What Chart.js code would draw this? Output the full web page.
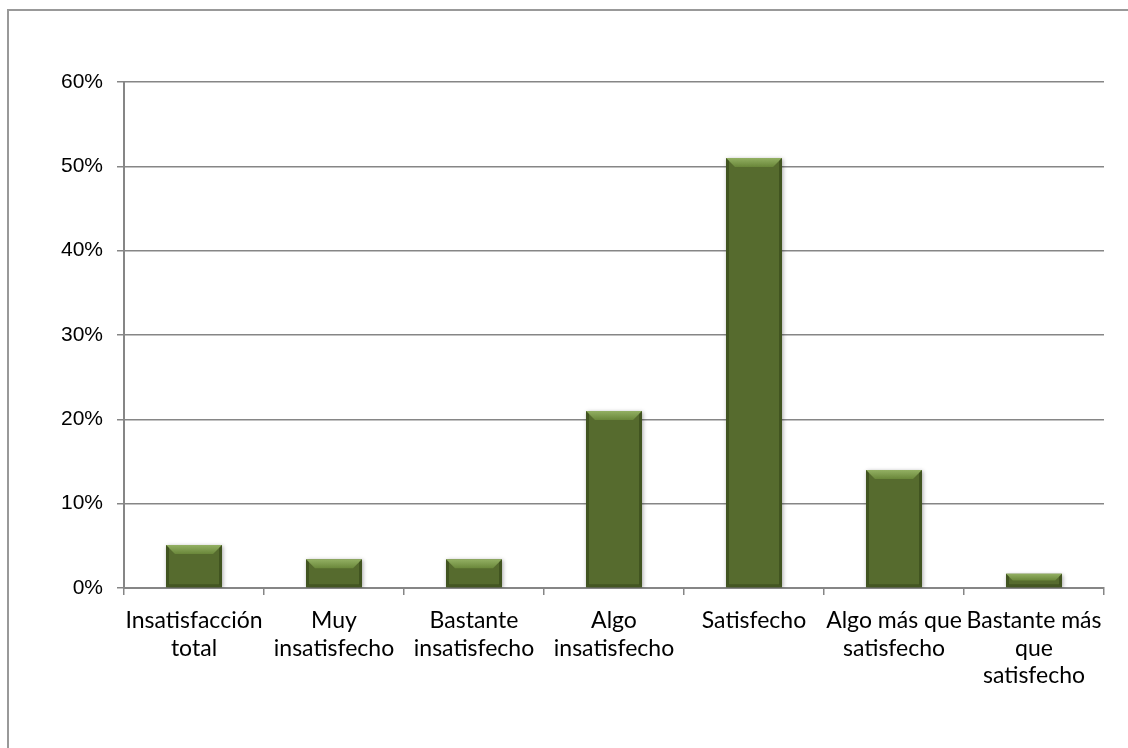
<!DOCTYPE html>
<html>
<head>
<meta charset="utf-8">
<script src="https://cdn.jsdelivr.net/npm/chart.js@4/dist/chart.umd.min.js"></script>
<style>
  html, body { margin: 0; padding: 0; background: #fff; }
  #wrap { position: relative; width: 1128px; height: 748px; overflow: hidden; }
  #frame { position: absolute; left: 7px; top: 9px; width: 1200px; height: 800px;
           border-left: 2px solid #999; border-top: 2px solid #999; box-sizing: border-box; }
  canvas { position: absolute; left: 0; top: 0; }
</style>
</head>
<body>
<div id="wrap">
  <div id="frame"></div>
  <canvas id="chart" width="1128" height="748"></canvas>
</div>
<script>
// chart data
const categories = [
    ['Insatisfacción', 'total'],
    ['Muy', 'insatisfecho'],
    ['Bastante', 'insatisfecho'],
    ['Algo', 'insatisfecho'],
    'Satisfecho',
    ['Algo más que', 'satisfecho'],
    ['Bastante más', 'que', 'satisfecho']
];
const percentages = [5.1, 3.4, 3.4, 21.0, 51.0, 14.0, 1.7];
const yTicks = [0, 10, 20, 30, 40, 50, 60];

const gridColor = '#868686';

// draws the bevelled look on top of each bar
const bevelPlugin = {
    id: 'bevel',
    beforeDatasetDraw(chart) {
        const ctx = chart.ctx;
        ctx.save();
        ctx.shadowColor = 'rgba(0,0,0,0.35)';
        ctx.shadowBlur = 4;
        ctx.shadowOffsetX = 1;
        ctx.shadowOffsetY = 1;
    },
    afterDatasetDraw(chart) {
        const ctx = chart.ctx;
        ctx.restore();
        chart.getDatasetMeta(0).data.forEach(bar => {
            const left = bar.x - bar.width / 2;
            const right = bar.x + bar.width / 2;
            const top = bar.y;
            const bottom = bar.base;
            const b = Math.min(9, (bottom - top) / 2);
            ctx.save();
            // top bevel
            let g = ctx.createLinearGradient(0, top, 0, top + b);
            g.addColorStop(0, '#93b063');
            g.addColorStop(1, '#6a873a');
            ctx.fillStyle = g;
            ctx.beginPath();
            ctx.moveTo(left, top);
            ctx.lineTo(right, top);
            ctx.lineTo(right - b, top + b);
            ctx.lineTo(left + b, top + b);
            ctx.closePath();
            ctx.fill();
            // left side
            ctx.fillStyle = 'rgba(50,66,22,0.55)';
            ctx.beginPath();
            ctx.moveTo(left, top);
            ctx.lineTo(left + 3, top + 3);
            ctx.lineTo(left + 3, bottom - 3);
            ctx.lineTo(left, bottom);
            ctx.closePath();
            ctx.fill();
            // right side
            ctx.beginPath();
            ctx.moveTo(right, top);
            ctx.lineTo(right - 3, top + 3);
            ctx.lineTo(right - 3, bottom - 3);
            ctx.lineTo(right, bottom);
            ctx.closePath();
            ctx.fill();
            // bottom
            ctx.fillStyle = 'rgba(50,66,22,0.5)';
            ctx.beginPath();
            ctx.moveTo(left, bottom);
            ctx.lineTo(right, bottom);
            ctx.lineTo(right - 3, bottom - 3);
            ctx.lineTo(left + 3, bottom - 3);
            ctx.closePath();
            ctx.fill();
            ctx.restore();
        });
    }
};

new Chart(document.getElementById('chart'), {
    type: 'bar',
    data: {
        labels: categories,
        datasets: [{
            data: percentages,
            backgroundColor: '#566b2e',
            borderWidth: 0,
            categoryPercentage: 1,
            barPercentage: 0.4
        }]
    },
    plugins: [bevelPlugin],
    options: {
        responsive: false,
        animation: false,
        layout: { padding: { left: 0, right: 24, top: 82, bottom: 0 } },
        plugins: {
            legend: { display: false },
            tooltip: { enabled: false }
        },
        scales: {
            x: {
                grid: {
                    display: true,
                    offset: true,
                    drawOnChartArea: false,
                    tickLength: 7,
                    tickColor: gridColor,
                    lineWidth: 1.5
                },
                border: { color: gridColor, width: 2 },
                ticks: {
                    color: '#000',
                    autoSkip: false,
                    maxRotation: 0,
                    padding: 12,
                    font: { family: 'Lato', size: 23, lineHeight: 1.2 }
                },
                afterFit: s => { s.height = 160; }
            },
            y: {
                min: 0,
                max: 60,
                afterBuildTicks: s => { s.ticks = yTicks.map(v => ({ value: v })); },
                grid: {
                    color: gridColor,
                    lineWidth: 1.5,
                    tickLength: 7,
                    tickColor: gridColor
                },
                border: { color: gridColor, width: 2 },
                ticks: {
                    color: '#000',
                    padding: 14,
                    callback: v => v + '%',
                    font: { family: 'Liberation Sans', size: 21 }
                },
                afterFit: s => { s.width = 124; }
            }
        }
    }
});
</script>
</body>
</html>
